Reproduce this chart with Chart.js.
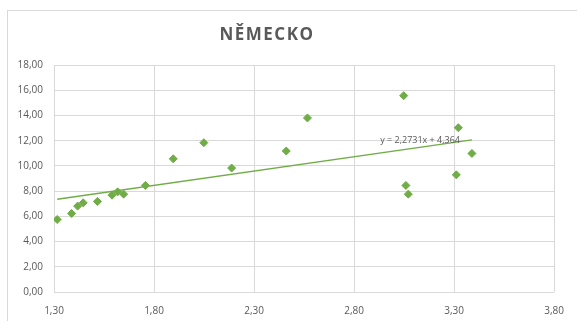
<!DOCTYPE html>
<html>
<head>
<meta charset="utf-8">
<script src="https://cdn.jsdelivr.net/npm/chart.js@4/dist/chart.umd.min.js"></script>
<style>
  html, body { margin: 0; padding: 0; background: #fff; }
  #wrap { width: 577px; height: 321px; position: relative; }
</style>
</head>
<body>
<div id="wrap"><canvas id="chart"></canvas></div>
<script>
// values
const xValues = [1.316, 1.388, 1.418, 1.446, 1.517, 1.590, 1.618, 1.648, 1.757, 1.896,
                 2.049, 2.188, 2.461, 2.567, 3.048, 3.059, 3.071, 3.311, 3.321, 3.389];
const yValues = [5.75, 6.23, 6.81, 7.07, 7.18, 7.68, 7.94, 7.76, 8.45, 10.56,
                 11.84, 9.83, 11.18, 13.80, 15.57, 8.45, 7.76, 9.29, 13.03, 10.99];
const xTicks = [1.30, 1.80, 2.30, 2.80, 3.30, 3.80];
const yTicks = [0, 2, 4, 6, 8, 10, 12, 14, 16, 18];
const slope = 2.2731;
const intercept = 4.364;
const titleText = 'NĚMECKO';
const trendText = 'y = 2,2731x + 4,364';

const green = '#70ad47';
const grid = '#d9d9d9';
const textCol = '#595959';

const points = xValues.map((x, i) => ({ x: x, y: yValues[i] }));
const xMin = Math.min(...xValues), xMax = Math.max(...xValues);
const trend = [xMin, xMax].map(x => ({ x: x, y: slope * x + intercept }));

const fmt = v => Number(v).toFixed(2).replace('.', ',');

const frame = {
  id: 'frame',
  beforeDraw(chart) {
    const ctx = chart.ctx;
    ctx.save();
    ctx.fillStyle = '#fff';
    ctx.fillRect(0, 0, chart.width, chart.height);
    ctx.strokeStyle = grid;
    ctx.lineWidth = 1;
    ctx.strokeRect(7.5, 10.5, 620, 400);
    ctx.restore();
  },
  afterDraw(chart) {
    const ctx = chart.ctx;
    ctx.save();
    ctx.fillStyle = textCol;
    ctx.textAlign = 'center';
    ctx.textBaseline = 'middle';
    ctx.font = 'bold 17px "Open Sans"';
    ctx.letterSpacing = '1.5px';
    ctx.fillText(titleText, 267, 35);
    ctx.letterSpacing = '0px';
    ctx.font = '9px "Open Sans"';
    const xs = chart.scales.x, ys = chart.scales.y;
    ctx.fillText(trendText, xs.getPixelForValue(3.13), ys.getPixelForValue(12.0));
    ctx.restore();
  }
};

new Chart(document.getElementById('chart'), {
  type: 'scatter',
  data: {
    datasets: [{
      data: points,
      pointStyle: 'rectRot',
      pointRadius: 4,
      pointBorderWidth: 1,
      backgroundColor: green,
      borderColor: green,
      order: 1
    }, {
      type: 'line',
      data: trend,
      borderColor: green,
      borderWidth: 1.3,
      pointRadius: 0,
      fill: false,
      order: 2
    }]
  },
  options: {
    responsive: true,
    maintainAspectRatio: false,
    animation: false,
    events: [],
    layout: { padding: { top: 65, right: 20, left: 0, bottom: 0 } },
    plugins: { legend: { display: false }, title: { display: false }, tooltip: { enabled: false } },
    scales: {
      x: {
        type: 'linear',
        min: 1.3,
        max: 3.8,
        afterBuildTicks: s => { s.ticks = xTicks.map(v => ({ value: v })); },
        afterFit: s => { s.height = 29; },
        grid: { color: grid, drawTicks: false },
        border: { display: false },
        ticks: {
          padding: 13,
          color: textCol,
          font: { family: 'Open Sans', size: 10 },
          callback: v => fmt(v)
        }
      },
      y: {
        min: 0,
        max: 18,
        afterBuildTicks: s => { s.ticks = yTicks.map(v => ({ value: v })); },
        afterFit: s => { s.width = 54; },
        grid: { color: grid, drawTicks: false },
        border: { display: false },
        ticks: {
          padding: 11,
          color: textCol,
          font: { family: 'Open Sans', size: 10 },
          callback: v => fmt(v)
        }
      }
    }
  },
  plugins: [frame]
});
</script>
</body>
</html>
